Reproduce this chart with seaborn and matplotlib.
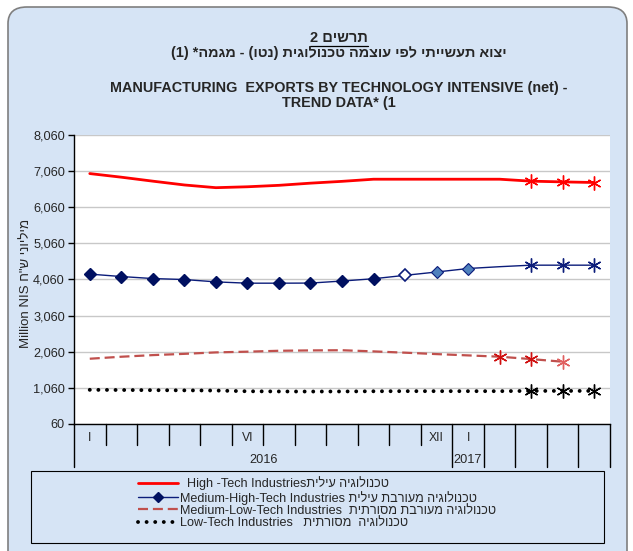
import numpy as np
import pandas as pd
import seaborn as sns
from matplotlib import pyplot as plt
from matplotlib.lines import Line2D
from matplotlib.patches import FancyBboxPatch, Rectangle
from matplotlib import transforms


def heb(s):
    # no bidi in matplotlib -> write hebrew in visual order
    return s[::-1].translate(str.maketrans('()', ')('))


# data -->
months = ['I', '', '', '', '', 'VI', '', '', '', '', '', 'XII', 'I', '', '', '', '']
years = ['2016'] * 12 + ['2017'] + [''] * 4
high_tech = [6985, 6885, 6775, 6670, 6595, 6620, 6660, 6720, 6770, 6829,
             6829, 6829, 6829, 6829, 6775, 6755, 6738]
med_high = [4205, 4138, 4082, 4055, 3990, 3954, 3954, 3957, 4013, 4077,
            4171, 4263, 4360, 4410, 4452, 4452, 4452]
med_low = [1865, 1920, 1965, 2000, 2040, 2060, 2085, 2095, 2100, 2068,
           2032, 1993, 1957, 1921, 1855, 1782, np.nan]
low_tech = [1005, 1000, 995, 990, 985, 965, 960, 958, 960, 965,
            968, 968, 968, 968, 975, 975, 975]
y_ticks = list(range(60, 8061, 1000))

legend_labels = [
    '  High -Tech Industries' + heb('טכנולוגיה עילית'),
    'Medium-High-Tech Industries ' + heb('טכנולוגיה מעורבת עילית'),
    'Medium-Low-Tech Industries  ' + heb('טכנולוגיה מעורבת מסורתית'),
    'Low-Tech Industries   ' + heb('טכנולוגיה  מסורתית'),
]

x = np.arange(len(months))
df = pd.DataFrame({'x': x, 'high': high_tech, 'mhigh': med_high,
                   'mlow': med_low, 'low': low_tech})

# style -->
sns.set_style('white')
plt.rcParams['font.family'] = ['Liberation Sans', 'DejaVu Sans']

W, H = 633, 551
fig = plt.figure(figsize=(W / 100, H / 100), dpi=100)
fig.patch.set_facecolor('white')


def fx(px):
    return px / W


def fy(py):
    return 1 - py / H


bg = FancyBboxPatch((fx(8), fy(575)), fx(627) - fx(8), fy(7) - fy(575),
                    boxstyle='round,pad=0,rounding_size=0.03',
                    transform=fig.transFigure, facecolor='#D6E4F5',
                    edgecolor='#7F7F7F', lw=1.2, zorder=-10)
fig.patches.append(bg)

ax = fig.add_axes([fx(74), fy(424), fx(610) - fx(74), fy(134.7) - fy(424)])
ax.set_facecolor('white')

navy = '#0B1C7A'
dots = (0, (0.01, 2.2))
sns.lineplot(data=df, x='x', y='high', ax=ax, color='#FF0000', lw=2.0)
sns.lineplot(data=df, x='x', y='mhigh', ax=ax, color=navy, lw=1.0)
sns.lineplot(data=df, x='x', y='mlow', ax=ax, color='#C0504D', lw=1.6,
             linestyle=(0, (4.5, 2.2)))
sns.lineplot(data=df, x='x', y='low', ax=ax, color='black', lw=2.8,
             linestyle=dots, dash_capstyle='round')

# markers
star = (6, 2, 0)
ax.plot(x[:10], med_high[:10], ls='none', marker='D', ms=6,
        mfc='#001060', mec='#001060')
ax.plot(x[10:11], med_high[10:11], ls='none', marker='D', ms=6,
        mfc='white', mec=navy, mew=1.2)
ax.plot(x[11:13], med_high[11:13], ls='none', marker='D', ms=6,
        mfc='#4F81BD', mec=navy, mew=0.8)
ax.plot(x[14:], med_high[14:], ls='none', marker=star, ms=10, mec=navy, mew=1)
ax.plot(x[14:], high_tech[14:], ls='none', marker=star, ms=10, mec='#FF0000', mew=1)
ax.plot(x[13:15], med_low[13:15], ls='none', marker=star, ms=10, mec='#D01010', mew=1)
ax.plot(x[15:16], med_low[15:16], ls='none', marker=star, ms=10, mec='#E06060', mew=1)
ax.plot(x[14:], low_tech[14:], ls='none', marker=star, ms=10, mec='black', mew=1)

ax.set_xlim(-0.5, len(months) - 0.5)
ax.set_ylim(y_ticks[0], y_ticks[-1])
ax.set_yticks(y_ticks)
ax.set_yticklabels(['{:,}'.format(v) for v in y_ticks], fontsize=9.2)
ax.yaxis.grid(True, color='#C8C8C8', lw=1)
ax.set_xticks([])
ax.set_xlabel('')
ax.set_ylabel('')
ax.tick_params(axis='y', left=True, length=4, width=1, color='black', pad=2.5)
for s in ['top', 'right']:
    ax.spines[s].set_visible(False)
for s in ['left', 'bottom']:
    ax.spines[s].set_color('black')
    ax.spines[s].set_linewidth(1)

# category axis (two levels) -->
tr = transforms.blended_transform_factory(ax.transData, fig.transFigure)
for i, b in enumerate(np.arange(-0.5, len(months))):
    full = b < 0 or b > 11
    y_end = 467 if full else 445
    ax.plot([b, b], [fy(424), fy(y_end)], transform=tr, color='black',
            lw=1, clip_on=False)
for i, m in enumerate(months):
    if m:
        ax.text(i, fy(438), m, transform=tr, ha='center', va='center', fontsize=8.8)
for yr in sorted(set(years) - {''}):
    idx = [i for i, v in enumerate(years) if v == yr]
    ax.text(np.mean(idx), fy(460), yr, transform=tr, ha='center', va='center',
            fontsize=9.2)

# y label
fig.text(fx(25.5), fy(283), 'Million NIS ' + heb('מיליוני ש"ח'), rotation=90,
         ha='center', va='center', fontsize=9.5)

# titles -->
t1 = fig.text(0.535, fy(38.5), heb('תרשים 2'), ha='center', va='center',
              fontsize=10.5, fontweight='bold')
fig.text(0.535, fy(53.5), heb('יצוא תעשייתי לפי עוצמה טכנולוגית (נטו) - מגמה* (1)'),
         ha='center', va='center', fontsize=10.4, fontweight='bold')
fig.text(0.535, fy(88), 'MANUFACTURING  EXPORTS BY TECHNOLOGY INTENSIVE (net) -',
         ha='center', va='center', fontsize=10.4, fontweight='bold')
fig.text(0.535, fy(103), 'TREND DATA* (1', ha='center', va='center',
         fontsize=10.4, fontweight='bold')

fig.canvas.draw()
bb = t1.get_window_extent().transformed(fig.transFigure.inverted())
fig.add_artist(Line2D([bb.x0, bb.x1], [fy(46), fy(46)], color='black', lw=0.9))

# legend -->
fig.patches.append(Rectangle((fx(31), fy(543)), fx(604) - fx(31), fy(471) - fy(543),
                             transform=fig.transFigure, facecolor='none',
                             edgecolor='black', lw=0.8))
handles = [
    Line2D([], [], color='#FF0000', lw=2.0),
    Line2D([], [], color=navy, lw=1.0, marker='D', ms=5, mfc='#001060', mec='#001060'),
    Line2D([], [], color='#C0504D', lw=1.6, linestyle=(0, (4.5, 2.2))),
    Line2D([], [], color='black', lw=2.8, linestyle=dots, dash_capstyle='round'),
]
fig.legend(handles, legend_labels, loc='upper left',
           bbox_to_anchor=(fx(138), fy(476.5)), frameon=False, fontsize=9.1,
           handlelength=3.2, handletextpad=0.15, labelspacing=0.02,
           borderpad=0, borderaxespad=0, numpoints=1)

fig.savefig('out.png', dpi=100, facecolor=fig.get_facecolor())
